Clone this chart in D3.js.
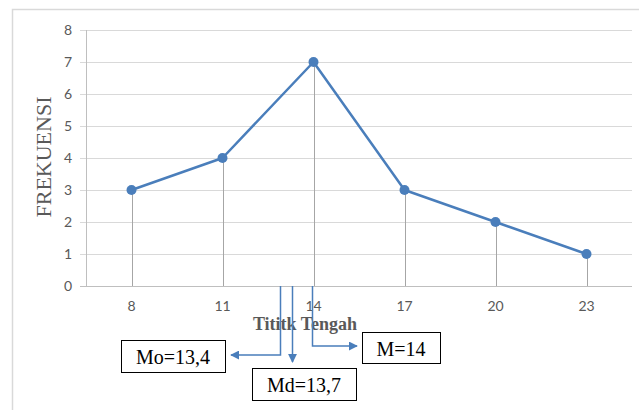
<!DOCTYPE html>
<html>
<head>
<meta charset="utf-8">
<script src="https://cdn.jsdelivr.net/npm/d3@7"></script>
<style>
  html, body { margin: 0; padding: 0; background: #fff; }
  svg { display: block; }
</style>
</head>
<body>
<svg id="chart" width="639" height="410"></svg>
<script>
// ---- data ----
const categories = ["8", "11", "14", "17", "20", "23"];
const frequencies = [3, 4, 7, 3, 2, 1];
const yTicks = [0, 1, 2, 3, 4, 5, 6, 7, 8];
const yTitle = "FREKUENSI";
const xTitle = "Tititk Tengah";
const annotationLabels = ["Mo=13,4", "Md=13,7", "M=14"];

// ---- layout ----
const svg = d3.select("#chart");
const W = 639, H = 410;
const plot = { left: 86, right: 632, top: 30, bottom: 286 };
const blue = "#4a7ebb";
const gray = "#595959";
const serif = "'Liberation Serif', 'Times New Roman', serif";

// outer chart border
svg.append("rect")
  .attr("x", 12.5).attr("y", 9.5)
  .attr("width", W).attr("height", H)
  .attr("fill", "none").attr("stroke", "#d9d9d9").attr("stroke-width", 1.5);

const x = d3.scaleBand().domain(categories).range([plot.left, plot.right]);
const y = d3.scaleLinear().domain([0, 8]).range([plot.bottom, plot.top]);
const cx = c => x(c) + x.bandwidth() / 2;

// y axis labels
const yAxis = d3.axisLeft(y).tickValues(yTicks).tickSize(0).tickPadding(14);
const gy = svg.append("g").attr("transform", `translate(${plot.left},0)`).call(yAxis);
gy.select(".domain").remove();
gy.selectAll("text")
  .attr("fill", gray).attr("font-family", "Lato, 'Open Sans', sans-serif").attr("font-size", 14);

// horizontal gridlines
svg.append("g").selectAll("line.grid").data(yTicks.filter(t => t > 0)).join("line")
  .attr("x1", plot.left - 6).attr("x2", plot.right)
  .attr("y1", d => Math.round(y(d)) + 0.5).attr("y2", d => Math.round(y(d)) + 0.5)
  .attr("stroke", "#d9d9d9").attr("stroke-width", 1);

// vertical axis line
svg.append("line")
  .attr("x1", plot.left + 0.5).attr("x2", plot.left + 0.5)
  .attr("y1", plot.top).attr("y2", plot.bottom)
  .attr("stroke", "#bfbfbf");

// x axis
const xAxis = d3.axisBottom(x).tickSize(0).tickPadding(15);
const gx = svg.append("g").attr("transform", `translate(0,${plot.bottom})`).call(xAxis);
gx.select(".domain").remove();
gx.selectAll("text")
  .attr("fill", gray).attr("font-family", "Lato, 'Open Sans', sans-serif").attr("font-size", 14);
svg.append("line")
  .attr("x1", plot.left - 6).attr("x2", plot.right)
  .attr("y1", plot.bottom + 0.5).attr("y2", plot.bottom + 0.5)
  .attr("stroke", "#bfbfbf");

// drop lines
svg.append("g").selectAll("line.drop").data(categories).join("line")
  .attr("x1", d => Math.round(cx(d)) + 0.5).attr("x2", d => Math.round(cx(d)) + 0.5)
  .attr("y1", (d, i) => y(frequencies[i])).attr("y2", plot.bottom)
  .attr("stroke", "#a6a6a6").attr("stroke-width", 1);

// line + markers
const pts = categories.map((c, i) => [cx(c), y(frequencies[i])]);
svg.append("path")
  .attr("d", d3.line()(pts))
  .attr("fill", "none").attr("stroke", blue).attr("stroke-width", 2.5)
  .attr("stroke-linejoin", "round");
svg.append("g").selectAll("circle").data(pts).join("circle")
  .attr("cx", d => d[0]).attr("cy", d => d[1]).attr("r", 5)
  .attr("fill", blue);

// axis titles
svg.append("text")
  .attr("transform", `translate(51,157) rotate(-90)`)
  .attr("text-anchor", "middle")
  .attr("font-family", serif)
  .attr("font-size", 22).attr("fill", gray)
  .text(yTitle);
svg.append("text")
  .attr("x", 305).attr("y", 330)
  .attr("text-anchor", "middle")
  .attr("font-family", serif)
  .attr("font-size", 18).attr("font-weight", "bold").attr("fill", gray)
  .text(xTitle);

// annotation arrows
const defs = svg.append("defs");
defs.append("marker").attr("id", "arr")
  .attr("viewBox", "0 0 10 10").attr("refX", 9).attr("refY", 5)
  .attr("markerWidth", 6).attr("markerHeight", 6).attr("markerUnits", "strokeWidth")
  .attr("orient", "auto")
  .append("path").attr("d", "M0,0 L10,5 L0,10 z").attr("fill", blue);

const x14 = cx("14");
const arrowPaths = [
  [[x14 - 33, plot.bottom], [x14 - 33, 355], [231, 355]],
  [[x14 - 21, plot.bottom], [x14 - 21, 362]],
  [[x14 - 1, plot.bottom], [x14 - 1, 346], [357, 346]]
];
svg.append("g").selectAll("path").data(arrowPaths).join("path")
  .attr("d", d => d3.line()(d))
  .attr("fill", "none").attr("stroke", blue).attr("stroke-width", 1.5)
  .attr("marker-end", "url(#arr)");

// annotation boxes
const boxes = [
  { x: 121, y: 340, w: 104, h: 32 },
  { x: 252, y: 368, w: 104, h: 32 },
  { x: 362, y: 332, w: 78, h: 31 }
];
const bg = svg.append("g").selectAll("g").data(boxes).join("g");
bg.append("rect")
  .attr("x", d => d.x + 0.5).attr("y", d => d.y + 0.5)
  .attr("width", d => d.w).attr("height", d => d.h)
  .attr("fill", "#fff").attr("stroke", "#000").attr("stroke-width", 1);
bg.append("text")
  .attr("x", d => d.x + d.w / 2).attr("y", d => d.y + d.h / 2 + 8)
  .attr("text-anchor", "middle")
  .attr("font-family", serif)
  .attr("font-size", 20).attr("fill", "#000")
  .text((d, i) => annotationLabels[i]);
</script>
</body>
</html>
